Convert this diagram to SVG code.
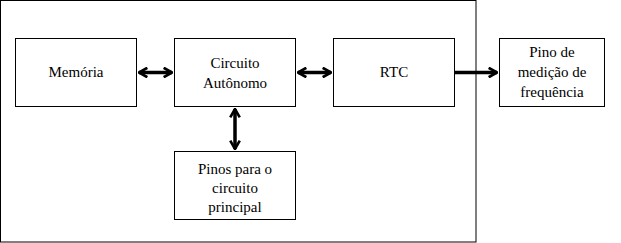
<svg xmlns="http://www.w3.org/2000/svg" width="621" height="243" viewBox="0 0 621 243">
<style>
.box{fill:#fff;stroke:#000;stroke-width:1}
.c{stroke:#000;stroke-width:3.5;fill:none}
</style>
<defs>
<marker id="ah" viewBox="0 0 10 10" refX="9" refY="5" markerWidth="3.4" markerHeight="3.4" orient="auto-start-reverse" markerUnits="strokeWidth">
<path d="M2,1 L9,5 L2,9" fill="none" stroke="#000" stroke-width="2.2"/>
</marker>
</defs>
<rect x="0.5" y="0.5" width="475.5" height="241.5" fill="#fff" stroke="#000" stroke-width="1"/>
<g id="memoria"><rect class="box" x="15.5" y="38.5" width="121" height="68"/><text x="76" y="77" font-family="Times New Roman" font-size="15" text-anchor="middle">Memória</text></g>
<g id="circuito"><rect class="box" x="174.5" y="38.5" width="121" height="68"/><text x="235" y="68" font-family="Times New Roman" font-size="15" text-anchor="middle">Circuito</text><text x="235" y="88" font-family="Times New Roman" font-size="15" text-anchor="middle">Autônomo</text></g>
<g id="rtc"><rect class="box" x="333.5" y="38.5" width="121" height="68"/><text x="394" y="77" font-family="Times New Roman" font-size="15" text-anchor="middle">RTC</text></g>
<g id="pino"><rect class="box" x="499.5" y="38.5" width="105" height="68"/><text x="552" y="57" font-family="Times New Roman" font-size="15" text-anchor="middle">Pino de</text><text x="552" y="77" font-family="Times New Roman" font-size="15" text-anchor="middle">medição de</text><text x="552" y="97" font-family="Times New Roman" font-size="15" text-anchor="middle">frequência</text></g>
<g id="pinos"><rect class="box" x="174.5" y="151.5" width="121" height="68"/><text x="235" y="174" font-family="Times New Roman" font-size="15" text-anchor="middle">Pinos para o</text><text x="235" y="193" font-family="Times New Roman" font-size="15" text-anchor="middle">circuito</text><text x="235" y="212" font-family="Times New Roman" font-size="15" text-anchor="middle">principal</text></g>
<g id="connectors">
<line class="c" x1="139" y1="72.5" x2="172" y2="72.5" marker-start="url(#ah)" marker-end="url(#ah)"/>
<line class="c" x1="298" y1="72.5" x2="331" y2="72.5" marker-start="url(#ah)" marker-end="url(#ah)"/>
<line class="c" x1="455" y1="72.5" x2="497" y2="72.5" marker-end="url(#ah)"/>
<line class="c" x1="235" y1="109" x2="235" y2="149" marker-start="url(#ah)" marker-end="url(#ah)"/>
</g>
</svg>
